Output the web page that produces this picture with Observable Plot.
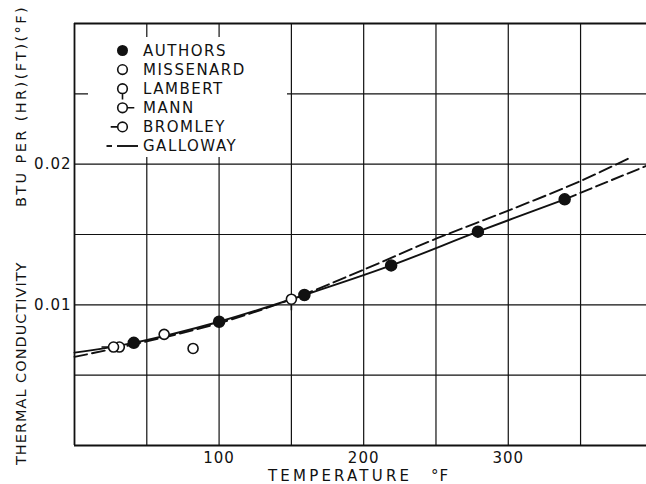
<!DOCTYPE html>
<html><head><meta charset="utf-8">
<script src="https://cdn.jsdelivr.net/npm/d3@7"></script>
<script src="https://cdn.jsdelivr.net/npm/@observablehq/plot@0.6"></script>
<style>body{margin:0;background:#fff}#chart{width:646px;height:484px}</style>
</head><body><div id="chart"></div>
<script>
// ---- data ----
const authorsT = [41, 100, 159, 219, 279, 339];
const authorsK = [0.0073, 0.0088, 0.0107, 0.0128, 0.0152, 0.0175];
const missenardT = [31, 62, 82];
const missenardK = [0.0070, 0.0079, 0.0069];
const lambertT = [150];
const lambertK = [0.0104];
const mannT = [];
const mannK = [];
const bromleyT = [27];
const bromleyK = [0.0070];
const fitT = [0, 41, 100, 159, 219, 279, 339];
const fitK = [0.0066, 0.0073, 0.0088, 0.0107, 0.0128, 0.0152, 0.0175];
const fitExtT = [339, 396];
const fitExtK = [0.0175, 0.0199];
const gallowayT = [0, 50, 100, 150, 200, 250, 300, 350, 385];
const gallowayK = [0.0063, 0.0074, 0.0087, 0.0104, 0.0125, 0.0147, 0.0167, 0.0188, 0.0205];
const xTicks = [100, 200, 300];
const yTicks = [0.01, 0.02];
const xGrid = [50, 100, 150, 200, 250, 300, 350];
const yGrid = [0.005, 0.01, 0.015, 0.02, 0.025];
const legendLabels = ["AUTHORS", "MISSENARD", "LAMBERT", "MANN", "BROMLEY", "GALLOWAY"];
const xTitle = ["TEMPERATURE", "°F"];
const yTitle = ["THERMAL CONDUCTIVITY", "BTU PER (HR)(FT)(°F)"];

const zip = (a, b) => a.map((t, i) => ({t, k: b[i]}));
const authors = zip(authorsT, authorsK);
const missenard = zip(missenardT, missenardK);
const lambert = zip(lambertT, lambertK);
const mann = zip(mannT, mannK);
const bromley = zip(bromleyT, bromleyK);
const fit = zip(fitT, fitK);
const fitExt = zip(fitExtT, fitExtK);
const galloway = zip(gallowayT, gallowayK);

// custom symbols: circle with a stem
const stemSymbol = (sx, sy, len) => ({
  draw(ctx, size) {
    const r = Math.sqrt(size / Math.PI);
    ctx.moveTo(r, 0);
    ctx.arc(0, 0, r, 0, 2 * Math.PI);
    if (len > 0) {
      ctx.moveTo(sx * r, sy * r);
      ctx.lineTo(sx * (r + len), sy * (r + len));
    }
  }
});
const circleSym = stemSymbol(0, 0, 0);
const lambertSym = stemSymbol(0, 1, 6);
const mannSym = stemSymbol(1, 0, 7);
const bromleySym = stemSymbol(-1, 0, 7);

const ink = "#111";
const openDot = (data, symbol) => Plot.dot(data, {x: "t", y: "k", r: 5, symbol, fill: "#fff", stroke: ink, strokeWidth: 1.6});

const plot = Plot.plot({
  width: 646, height: 484,
  marginLeft: 74, marginRight: 0, marginTop: 23, marginBottom: 39,
  style: {fontFamily: "DejaVu Sans", fontSize: "15px", background: "#fff", color: ink, overflow: "visible"},
  x: {domain: [0, 395.6]},
  y: {domain: [0, 0.03]},
  marks: [
    Plot.ruleX(xGrid, {stroke: ink, strokeWidth: 1.2}),
    Plot.ruleY(yGrid, {stroke: ink, strokeWidth: 1.2}),
    Plot.ruleX([0], {stroke: ink, strokeWidth: 1.8}),
    Plot.ruleY([0, 0.03], {stroke: ink, strokeWidth: 1.8}),
    Plot.line(galloway, {x: "t", y: "k", stroke: ink, strokeWidth: 1.9, strokeDasharray: "13,5", curve: "catmull-rom"}),
    Plot.line(fit, {x: "t", y: "k", stroke: ink, strokeWidth: 1.9, curve: "catmull-rom"}),
    Plot.line(fitExt, {x: "t", y: "k", stroke: ink, strokeWidth: 1.9, strokeDasharray: "12,5"}),
    openDot(missenard, circleSym),
    openDot(lambert, lambertSym),
    openDot(mann, mannSym),
    openDot(bromley, bromleySym),
    Plot.dot(authors, {x: "t", y: "k", r: 5.5, fill: ink, stroke: ink}),
    Plot.axisX({ticks: xTicks, tickSize: 0, tickPadding: 7, label: null, fontSize: 15}),
    Plot.axisY({ticks: yTicks, tickSize: 0, tickPadding: 3, tickFormat: d3.format(".2f"), label: null, fontSize: 15})
  ]
});
document.getElementById("chart").appendChild(plot);

// ---- legend and titles (layout) ----
const svg = d3.select(plot);
svg.style("letter-spacing", "1px");
const lg = svg.append("g").attr("text-anchor", "start");
lg.append("rect").attr("x", 88).attr("y", 37).attr("width", 199).attr("height", 120).attr("fill", "#fff");
const symPath = (s, r) => d3.symbol(s, Math.PI * r * r)();
const syms = [null, circleSym, lambertSym, mannSym, bromleySym, "dash"];
legendLabels.forEach((lab, i) => {
  const y = 50.5 + i * 19.1;
  const sx = 122.5;
  if (i === 0) {
    lg.append("circle").attr("cx", sx).attr("cy", y).attr("r", 5.5).attr("fill", ink);
  } else if (i === 5) {
    lg.append("line").attr("x1", 106.5).attr("x2", 112).attr("y1", y).attr("y2", y).attr("stroke", ink).attr("stroke-width", 1.9);
    lg.append("line").attr("x1", 117).attr("x2", 138).attr("y1", y).attr("y2", y).attr("stroke", ink).attr("stroke-width", 1.9);
  } else {
    lg.append("path").attr("d", symPath(syms[i], 4.8)).attr("transform", `translate(${sx},${y})`)
      .attr("fill", "#fff").attr("stroke", ink).attr("stroke-width", 1.6);
  }
  lg.append("text").attr("x", 143).attr("y", y).attr("dy", "0.36em").attr("text-anchor", "start")
    .attr("font-size", 15).attr("fill", ink).attr("letter-spacing", "1.5px").text(lab);
});

const tg = svg.append("g").attr("text-anchor", "start");
tg.append("text").attr("x", 268).attr("y", 481).attr("font-size", 15).attr("fill", ink)
  .attr("textLength", 142).attr("lengthAdjust", "spacing").text(xTitle[0]);
tg.append("text").attr("x", 431).attr("y", 481).attr("font-size", 15).attr("fill", ink).text(xTitle[1]);

const yt = svg.append("g").attr("transform", "translate(26,0) rotate(-90)");
yt.append("text").attr("x", -465).attr("y", 0).attr("font-size", 14.5).attr("fill", ink)
  .attr("text-anchor", "start").attr("letter-spacing", "1px").text(yTitle[0]);
yt.append("text").attr("x", -5).attr("y", 0).attr("font-size", 14.5).attr("fill", ink)
  .attr("text-anchor", "end").attr("letter-spacing", "2.4px").text(yTitle[1]);
</script>
</body></html>
